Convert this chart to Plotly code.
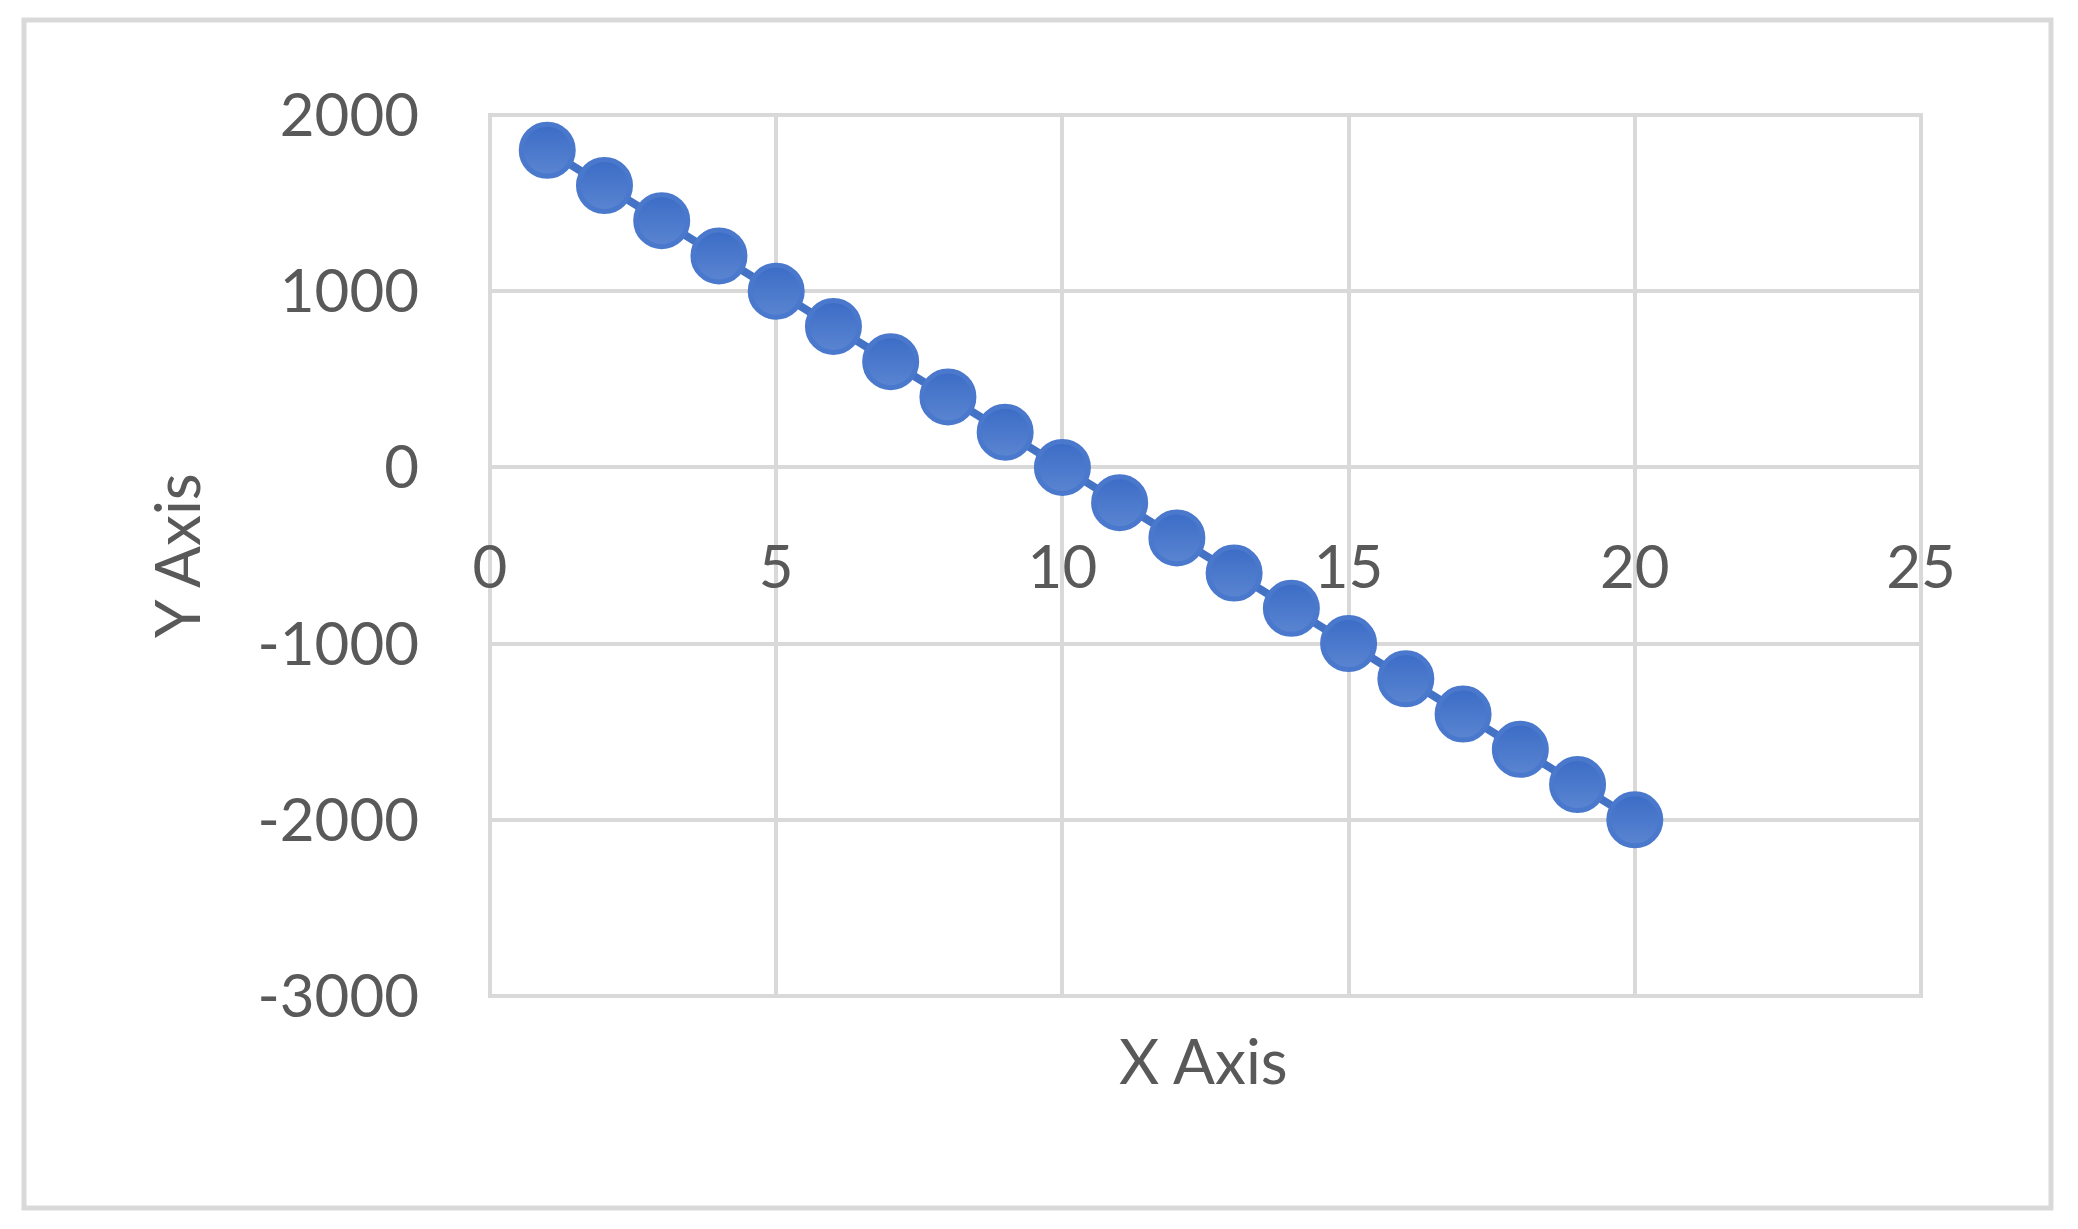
"""
Straight-line scatter chart (Excel style) rebuilt with Plotly.
"""

import plotly.graph_objects as go

# data
x_values = [1, 2, 3, 4, 5, 6, 7, 8, 9, 10, 11, 12, 13, 14, 15, 16, 17, 18, 19, 20]
y_values = [1800, 1600, 1400, 1200, 1000, 800, 600, 400, 200, 0,
            -200, -400, -600, -800, -1000, -1200, -1400, -1600, -1800, -2000]

x_ticks = [0, 5, 10, 15, 20, 25]
y_ticks = [-3000, -2000, -1000, 0, 1000, 2000]
y_tick_text = ["-3000", "-2000", "-1000", "0", "1000", "2000"]

x_title = "X Axis"
y_title = "Y Axis"

TEXT = "#595959"
GRID = "#d9d9d9"
BLUE = "#4472c4"
FONT = "Lato, 'Open Sans', sans-serif"

W, H = 2078, 1229
OFF = 8  # page body margin in the browser
plot_w, plot_h = 1431, 881
L, T = 490 - OFF, 115 - OFF
R = W - L - plot_w
B = H - T - plot_h


def px_x(p):
    """target pixel x -> paper fraction"""
    return (p - OFF - L) / plot_w


def px_y(p):
    """target pixel y (from top) -> paper fraction"""
    return (T + plot_h - (p - OFF)) / plot_h


fig = go.Figure()
fig.add_trace(go.Scatter(
    x=x_values,
    y=y_values,
    mode="lines+markers",
    line=dict(color=BLUE, width=8),
    marker=dict(
        size=52,
        color="#3b6cc6",
        gradient=dict(type="vertical", color="#5a85d1"),
        line=dict(color="#4a78cc", width=5),
    ),
    showlegend=False,
    hoverinfo="x+y",
))

fig.update_layout(
    width=W,
    height=H,
    autosize=False,
    margin=dict(l=L, r=R, t=T, b=B),
    paper_bgcolor="white",
    plot_bgcolor="white",
    font=dict(family=FONT, size=60, color=TEXT),
    xaxis=dict(
        range=[0, 25],
        tickvals=x_ticks,
        showgrid=True,
        gridcolor=GRID,
        gridwidth=4,
        zeroline=False,
        showline=False,
        anchor="free",
        position=0.6,
        ticks="",
        ticklabelstandoff=60,
        tickfont=dict(size=60, color=TEXT),
    ),
    yaxis=dict(
        range=[-3000, 2000],
        tickvals=y_ticks,
        ticktext=y_tick_text,
        showgrid=True,
        gridcolor=GRID,
        gridwidth=4,
        zeroline=False,
        showline=False,
        ticks="",
        ticklabelstandoff=70,
        tickfont=dict(size=60, color=TEXT),
    ),
)

# plot area edges (Excel draws grid lines there too)
fig.add_shape(
    type="rect", xref="paper", yref="paper",
    x0=0, x1=1, y0=0, y1=1,
    line=dict(color=GRID, width=4), fillcolor="rgba(0,0,0,0)", layer="below",
)

# outer chart border
fig.add_shape(
    type="rect", xref="paper", yref="paper",
    x0=px_x(24), x1=px_x(2051), y0=px_y(1208), y1=px_y(20),
    line=dict(color=GRID, width=5), fillcolor="rgba(0,0,0,0)", layer="below",
)

fig.add_annotation(
    text=x_title, xref="paper", yref="paper",
    x=px_x(1203), y=px_y(1060), xanchor="center", yanchor="middle",
    showarrow=False, font=dict(size=62, color=TEXT),
)
fig.add_annotation(
    text=y_title, xref="paper", yref="paper",
    x=px_x(176), y=px_y(556), xanchor="center", yanchor="middle",
    textangle=-90, showarrow=False, font=dict(size=62, color=TEXT),
)

fig.write_html("out.html")
